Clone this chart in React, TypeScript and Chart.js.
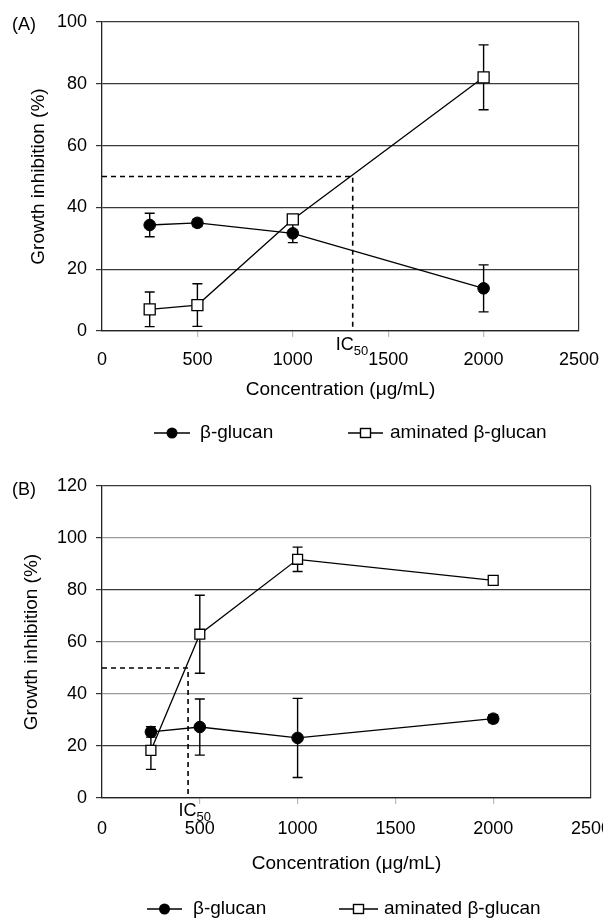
import React, { useEffect, useRef } from 'react';
import { Chart, registerables } from 'chart.js';

Chart.register(...registerables);

const FONT = "'Liberation Sans', Arial, Helvetica, sans-serif";

// ---------- data ----------
const concentrations = [250, 500, 1000, 2000];
const xTicks = [0, 500, 1000, 1500, 2000, 2500];
const yTicksA = [0, 20, 40, 60, 80, 100];
const yTicksB = [0, 20, 40, 60, 80, 100, 120];
const seriesNames = ['β-glucan', 'aminated β-glucan'];
const xTitle = 'Concentration (μg/mL)';
const yTitle = 'Growth inhibition (%)';

const glucanA = [34.3, 35.0, 31.6, 13.8];
const glucanAErr = [3.8, 1.2, 3.0, 7.6];
const aminatedA = [7.0, 8.4, 36.1, 82.1];
const aminatedAErr = [5.6, 6.9, 0.8, 10.5];
const ic50A = 1314;

const glucanB = [25.4, 27.3, 23.1, 30.5];
const glucanBErr = [2.0, 10.8, 15.2, 1.5];
const aminatedB = [18.3, 63.0, 91.8, 83.7];
const aminatedBErr = [7.3, 15.0, 4.7, 0];
const ic50B = 440;
const icLevel = 50;

// ---------- layout / style per panel ----------
type LegendSlot = { x0: number; x1: number; tx: number };
type Panel = {
  tag: string;
  glucan: number[];
  glucanErr: number[];
  aminated: number[];
  aminatedErr: number[];
  ic50: number;
  yTicks: number[];
  width: number;
  height: number;
  top: number;
  pad: { left: number; top: number; right: number; bottom: number };
  yAxisW: number;
  xAxisH: number;
  xTickPad: number;
  legendY: number;
  legend: LegendSlot[];
  icDx: number;
  icDy: number;
  darkY: number[];
  squareR: number;
};

const panelA: Panel = {
  tag: '(A)',
  glucan: glucanA,
  glucanErr: glucanAErr,
  aminated: aminatedA,
  aminatedErr: aminatedAErr,
  ic50: ic50A,
  yTicks: yTicksA,
  width: 603,
  height: 465,
  top: 0,
  pad: { left: 23, top: 22, right: 24, bottom: 60 },
  yAxisW: 79,
  xAxisH: 74,
  xTickPad: 12,
  legendY: 433,
  legend: [
    { x0: 154, x1: 190, tx: 200 },
    { x0: 348, x1: 383, tx: 390 },
  ],
  icDx: -17,
  icDy: 19,
  darkY: [0, 20, 40, 60, 80, 100],
  squareR: 7.8,
};

const panelB: Panel = {
  tag: '(B)',
  glucan: glucanB,
  glucanErr: glucanBErr,
  aminated: aminatedB,
  aminatedErr: aminatedBErr,
  ic50: ic50B,
  yTicks: yTicksB,
  width: 620,
  height: 453,
  top: 465,
  pad: { left: 16, top: 21, right: 29, bottom: 39 },
  yAxisW: 86,
  xAxisH: 81,
  xTickPad: 14.5,
  legendY: 444,
  legend: [
    { x0: 147, x1: 182, tx: 193 },
    { x0: 339, x1: 378, tx: 384 },
  ],
  icDx: -9.5,
  icDy: 18,
  darkY: [0, 20, 80, 120],
  squareR: 7,
};

const overlayPlugin = {
  id: 'overlay',
  beforeDatasetsDraw(chart: any) {
    const ctx = chart.ctx;
    const ys = chart.scales.y;
    ctx.save();
    ctx.strokeStyle = '#000';
    ctx.lineWidth = 1.4;
    chart.data.datasets.forEach((ds: any, i: number) => {
      if (!ds.errors) return;
      const meta = chart.getDatasetMeta(i);
      meta.data.forEach((pt: any, j: number) => {
        const e = ds.errors[j];
        if (!e) return;
        const v = ds.data[j].y;
        const yt = ys.getPixelForValue(v + e);
        const yb = ys.getPixelForValue(v - e);
        const x = pt.x;
        ctx.beginPath();
        ctx.moveTo(x, yt);
        ctx.lineTo(x, yb);
        ctx.moveTo(x - 5, yt);
        ctx.lineTo(x + 5, yt);
        ctx.moveTo(x - 5, yb);
        ctx.lineTo(x + 5, yb);
        ctx.stroke();
      });
    });
    ctx.restore();
  },
  afterDraw(chart: any, _args: any, opts: any) {
    const p: Panel = opts.panel;
    const ctx = chart.ctx;
    const area = chart.chartArea;
    ctx.save();
    ctx.fillStyle = '#000';
    // panel tag
    ctx.font = `18px ${FONT}`;
    ctx.textAlign = 'left';
    ctx.textBaseline = 'middle';
    ctx.fillText(p.tag, 12, 25);
    // IC50 label
    const icX = chart.scales.x.getPixelForValue(p.ic50);
    const base = area.bottom + p.icDy;
    ctx.textBaseline = 'alphabetic';
    ctx.font = `18px ${FONT}`;
    const icX0 = icX + p.icDx;
    ctx.fillText('IC', icX0, base);
    const w = ctx.measureText('IC').width;
    ctx.font = `13px ${FONT}`;
    ctx.fillText('50', icX0 + w, base + 5);
    // legend
    p.legend.forEach((slot, i) => {
      const ds = chart.data.datasets[i];
      const y = p.legendY;
      ctx.strokeStyle = '#000';
      ctx.lineWidth = 1.4;
      ctx.beginPath();
      ctx.moveTo(slot.x0, y);
      ctx.lineTo(slot.x1, y);
      ctx.stroke();
      const cx = (slot.x0 + slot.x1) / 2;
      if (ds.pointStyle === 'circle') {
        ctx.fillStyle = '#000';
        ctx.beginPath();
        ctx.arc(cx, y, 5.5, 0, Math.PI * 2);
        ctx.fill();
      } else {
        ctx.fillStyle = '#fff';
        ctx.fillRect(cx - 5, y - 4.5, 10, 9);
        ctx.strokeRect(cx - 5, y - 4.5, 10, 9);
      }
      ctx.fillStyle = '#000';
      ctx.font = `19px ${FONT}`;
      ctx.textAlign = 'left';
      ctx.textBaseline = 'middle';
      ctx.fillText(ds.label, slot.tx, y);
    });
    ctx.restore();
  },
};

function buildConfig(p: Panel): any {
  const yMax = p.yTicks[p.yTicks.length - 1];
  const xMax = xTicks[xTicks.length - 1];
  return {
    type: 'line',
    data: {
      datasets: [
        {
          label: seriesNames[0],
          data: concentrations.map((x, i) => ({ x, y: p.glucan[i] })),
          errors: p.glucanErr,
          borderColor: '#000',
          borderWidth: 1.3,
          pointStyle: 'circle',
          pointRadius: 5.8,
          pointBackgroundColor: '#000',
          pointBorderColor: '#000',
          pointBorderWidth: 1,
          tension: 0,
        },
        {
          label: seriesNames[1],
          data: concentrations.map((x, i) => ({ x, y: p.aminated[i] })),
          errors: p.aminatedErr,
          borderColor: '#000',
          borderWidth: 1.3,
          pointStyle: 'rect',
          pointRadius: p.squareR,
          pointBackgroundColor: '#fff',
          pointBorderColor: '#000',
          pointBorderWidth: 1.3,
          tension: 0,
        },
        {
          label: 'IC50',
          data: [
            { x: 0, y: icLevel },
            { x: p.ic50, y: icLevel },
            { x: p.ic50, y: 0 },
          ],
          borderColor: '#000',
          borderWidth: 1.6,
          borderDash: [5, 4],
          pointRadius: 0,
          tension: 0,
        },
      ],
    },
    options: {
      animation: false,
      responsive: false,
      devicePixelRatio: 1,
      layout: { padding: p.pad },
      plugins: {
        legend: { display: false },
        tooltip: { enabled: false },
        overlay: { panel: p },
      },
      scales: {
        x: {
          type: 'linear',
          min: 0,
          max: xMax,
          afterBuildTicks: (s: any) => {
            s.ticks = xTicks.map((v) => ({ value: v }));
          },
          afterFit: (s: any) => {
            s.height = p.xAxisH;
            s.paddingLeft = 0;
            s.paddingRight = 0;
          },
          grid: {
            color: (c: any) => (c.tick && c.tick.value === xMax ? '#333' : 'rgba(0,0,0,0)'),
            tickColor: (c: any) =>
              c.tick && c.tick.value > 0 && c.tick.value < xMax ? '#bbb' : 'rgba(0,0,0,0)',
            tickLength: 6,
            lineWidth: 1.2,
          },
          border: { display: true, color: '#222', width: 1.3 },
          ticks: {
            padding: p.xTickPad,
            font: { family: FONT, size: 18 },
            color: '#000',
            maxRotation: 0,
            autoSkip: false,
            callback: (v: any) => String(v),
          },
          title: {
            display: true,
            text: xTitle,
            font: { family: FONT, size: 19 },
            color: '#000',
            padding: { top: 4, bottom: 4 },
          },
        },
        y: {
          type: 'linear',
          min: 0,
          max: yMax,
          afterBuildTicks: (s: any) => {
            s.ticks = p.yTicks.map((v) => ({ value: v }));
          },
          afterFit: (s: any) => {
            s.width = p.yAxisW;
          },
          grid: {
            color: (c: any) => (c.tick && p.darkY.includes(c.tick.value) ? '#3a3a3a' : '#9a9a9a'),
            tickColor: '#333',
            tickLength: 6,
            lineWidth: 1.2,
          },
          border: { display: true, color: '#222', width: 1.3 },
          ticks: {
            padding: 9,
            font: { family: FONT, size: 18 },
            color: '#000',
            callback: (v: any) => String(v),
          },
          title: {
            display: true,
            text: yTitle,
            font: { family: FONT, size: 19 },
            color: '#000',
            padding: { top: 4, bottom: 4 },
          },
        },
      },
    },
    plugins: [overlayPlugin],
  };
}

function PanelChart({ panel }: { panel: Panel }) {
  const ref = useRef<HTMLCanvasElement | null>(null);
  useEffect(() => {
    if (!ref.current) return;
    const chart = new Chart(ref.current, buildConfig(panel));
    return () => chart.destroy();
  }, [panel]);
  return (
    <canvas
      ref={ref}
      width={panel.width}
      height={panel.height}
      style={{
        position: 'absolute',
        left: 0,
        top: panel.top,
        width: panel.width,
        height: panel.height,
        display: 'block',
      }}
    />
  );
}

export default function App() {
  return (
    <div
      style={{
        position: 'fixed',
        left: 0,
        top: 0,
        width: 603,
        height: 918,
        overflow: 'hidden',
        background: '#fff',
      }}
    >
      <PanelChart panel={panelA} />
      <PanelChart panel={panelB} />
    </div>
  );
}
